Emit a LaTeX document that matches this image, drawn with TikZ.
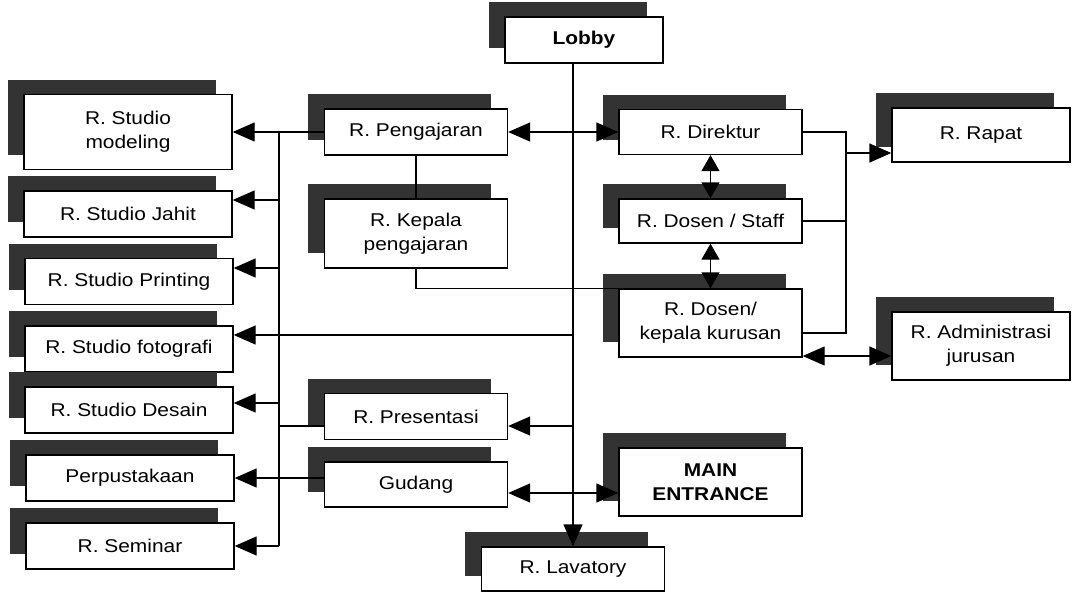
\documentclass[tikz,border=0pt]{standalone}
\usepackage{fontspec}
\setmainfont[FakeStretch=1.13]{Liberation Sans}
\usetikzlibrary{arrows.meta,shadows}
\begin{document}
\begin{tikzpicture}[x=1pt,y=-1pt,
  room/.style={draw=black, line width=1.4pt, fill=white, align=center,
    font=\fontsize{18.5}{24}\selectfont, inner sep=2pt,
    general shadow={fill=black!80, shadow xshift=-16.5pt, shadow yshift=15pt}},
  wide/.style={minimum width=208pt},
  mid/.style={minimum width=183pt},
  one/.style={minimum height=46pt},
  two/.style={minimum height=68pt},
  wire/.style={line width=1.4pt},
  arr/.style={wire, -{Triangle[length=22pt,width=19pt]}},
  biarr/.style={wire, {Triangle[length=22pt,width=19pt]}-{Triangle[length=22pt,width=19pt]}},
  vbiarr/.style={wire, {Triangle[length=16pt,width=18pt]}-{Triangle[length=16pt,width=18pt]}},
]
\useasboundingbox (0,0) rectangle (1072,592);

% left column
\node[room, wide, minimum height=75pt] (model) at (128,132) {R. Studio\\modeling};
\node[room, wide, one] (jahit) at (128,214) {R. Studio Jahit};
\node[room, wide, one] (print) at (129,281.5) {R. Studio Printing};
\node[room, wide, one] (foto) at (129,349) {R. Studio fotografi};
\node[room, wide, one] (desain) at (129,410) {R. Studio Desain};
\node[room, wide, one] (perp) at (130,478) {Perpustakaan};
\node[room, wide, one] (seminar) at (130,546) {R. Seminar};

% centre column
\node[room, mid, one] (peng) at (416,132) {R. Pengajaran};
\node[room, mid, minimum height=69pt] (kep) at (416,233.5) {R. Kepala\\pengajaran};
\node[room, mid, one] (pres) at (416,416.5) {R. Presentasi};
\node[room, mid, minimum height=45pt] (gud) at (416,484.5) {Gudang};
\node[room, minimum width=158pt, one, font=\fontsize{18.5}{24}\selectfont\bfseries] (lobby) at (584,40) {Lobby};
\node[room, mid, minimum height=44pt] (lav) at (573,569) {R. Lavatory};

% right column
\node[room, mid, minimum height=45pt] (dir) at (710.5,132) {R. Direktur};
\node[room, mid, minimum height=44pt] (ds) at (710.5,221) {R. Dosen / Staff};
\node[room, mid, two] (dk) at (710.5,323) {R. Dosen/\\kepala kurusan};
\node[room, mid, two, font=\fontsize{18.5}{24}\selectfont\bfseries] (me) at (710.5,482) {MAIN\\ENTRANCE};
\node[room, minimum width=178pt, minimum height=54pt] (rapat) at (981,135) {R. Rapat};
\node[room, minimum width=178pt, two] (admin) at (981,346) {R. Administrasi\\jurusan};

% left bus
\coordinate (bA) at (279,132);
\coordinate (bB) at (279,200);
\coordinate (bC) at (279,268);
\coordinate (bE) at (279,403);
\coordinate (bF) at (279,426);
\coordinate (bG) at (279,546);
\draw[wire] (bA) -- (bG);
\draw[wire] (peng.west) -- (bA);
\draw[arr] (bA) -- (model.east);
\draw[arr] (bB) -- (bB -| jahit.east);
\draw[arr] (bC) -- (bC -| print.east);
\draw[arr] (bE) -- (bE -| desain.east);
\draw[wire] (bF) -- (bF -| pres.west);
\draw[arr] (bG) -- (seminar.east);

% main vertical
\draw[arr] (lobby.south -| lav.north) -- (lav.north);
\coordinate (mF) at (573,335);
\coordinate (mP) at (573,426);
\draw[arr] (mF) -- (mF -| foto.east);
\draw[arr] (mP) -- (mP -| pres.east);

% Gudang
\draw[arr] (gud.west |- perp.east) -- (perp.east);
\coordinate (gM) at (507,493);
\draw[biarr] (gud.east |- gM) -- (gM -| me.west);

% Pengajaran links
\draw[biarr] (peng.east) -- (dir.west);
\draw[wire] (peng.south) -- (kep.north);
\draw[wire] (kep.south) |- (dk.north west);

% right side
\draw[vbiarr] (dir.south) -- (ds.north);
\draw[vbiarr] (ds.south) -- (dk.north);
\coordinate (rB) at (846,333);
\draw[wire] (dir.east) -| (rB) -- (rB -| dk.east);
\draw[wire] (ds.east) -- (ds.east -| rB);
\coordinate (rR) at (846,153);
\draw[arr] (rR) -- (rR -| rapat.west);
\coordinate (rA) at (802,356);
\draw[biarr] (dk.east |- rA) -- (rA -| admin.west);
\end{tikzpicture}
\end{document}
